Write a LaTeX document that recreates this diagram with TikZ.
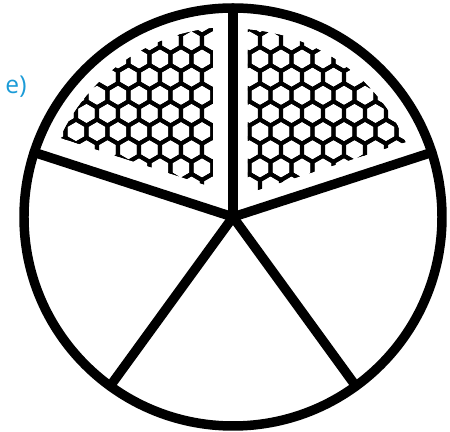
\documentclass[tikz,border=0pt]{standalone}
\usepackage{fontspec}
\setmainfont{Open Sans}
\definecolor{labelcyan}{RGB}{27,155,215}
\begin{document}
\begin{tikzpicture}[x=0.02cm, y=0.02cm, line join=miter]
	\def\R{209} \def\s{12.1} \def\w{21} \def\h{18.15}
	\tikzset{rim/.style={line width=5.4pt}, comb/.style={line width=2.3pt}}
	\useasboundingbox (-233,-215) rectangle (217,217);
	\coordinate (O) at (0,0);
	\begin{scope}
		\clip (O) circle (190);
		\clip (-300,-300) rectangle (-20,300);
		\clip [rotate=162] (-300,-22) rectangle (300,-300);
		\foreach \j in {0,...,10} \foreach \i in {-10,...,0} {
			\pgfmathsetmacro\cx{11+\i*\w+mod(\j,2)*\w/2}
			\pgfmathsetmacro\cy{12.8+\j*\h}
			\draw [comb, shift={(\cx,\cy)}] (30:\s)--(90:\s)--(150:\s)--(210:\s)--(270:\s)--(330:\s)--cycle;
		}
	\end{scope}
	\begin{scope}
		\clip (O) circle (188);
		\clip (15,-300) rectangle (300,300);
		\clip [rotate=18] (-300,18) rectangle (300,300);
		\foreach \j in {0,...,10} \foreach \i in {-1,...,9} {
			\pgfmathsetmacro\cx{6+\i*\w+mod(\j,2)*\w/2}
			\pgfmathsetmacro\cy{12.8+\j*\h}
			\draw [comb, shift={(\cx,\cy)}] (30:\s)--(90:\s)--(150:\s)--(210:\s)--(270:\s)--(330:\s)--cycle;
		}
	\end{scope}
	\draw [rim] (O) circle (\R);
	\foreach \a in {18,90,162,234,306}
		\draw [rim, line cap=round] (O) -- (\a:\R);
	\node [labelcyan, inner sep=0pt, font=\fontsize{14}{16}\selectfont] (lbl) at (-217,130) {e)};
\end{tikzpicture}
\end{document}
